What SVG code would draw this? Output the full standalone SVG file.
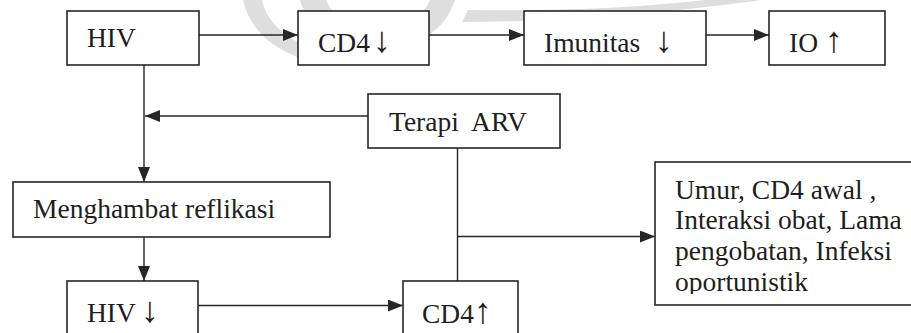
<svg xmlns="http://www.w3.org/2000/svg" width="911" height="333" viewBox="0 0 911 333">
  <style>
    .box { fill: #ffffff; stroke: #262626; stroke-width: 1.6; }
    .lbl { font-family: "Liberation Serif", "DejaVu Serif", serif; font-size: 27.5px; fill: #1e1e1e; white-space: pre; }
    .arw { font-size: 36px; }
    .wire { fill: none; stroke: #262626; stroke-width: 1.4; }
    .mark { fill: #dedede; }
  </style>
  <defs>
    <marker id="tip" markerUnits="userSpaceOnUse" markerWidth="15" markerHeight="12" viewBox="0 0 15 12" refX="15" refY="6" orient="auto">
      <path d="M0,0 L15,6 L0,12 Z" fill="#262626"/>
    </marker>
    <clipPath id="factorsClip">
      <rect x="656" y="163" width="260" height="131"/>
    </clipPath>
  </defs>

  <!-- faint background emblem -->
  <g id="emblem">
    <path class="mark" d="M243,0 L262,0 Q268,28 302,44 L300,58 Q252,40 243,0 Z"/>
    <path class="mark" d="M300,0 Q312,46 378,48 Q440,46 455,0 L430,0 Q420,26 378,27 Q336,26 326,0 Z"/>
    <path class="mark" d="M462,22 Q600,22 762,0 L705,0 Q600,12 468,10 Z"/>
  </g>

  <g id="connectors">
    <line class="wire" x1="199" y1="35" x2="298" y2="35" marker-end="url(#tip)"/>
    <line class="wire" x1="429" y1="35" x2="524" y2="35" marker-end="url(#tip)"/>
    <line class="wire" x1="706" y1="35" x2="769" y2="35" marker-end="url(#tip)"/>
    <line class="wire" x1="144" y1="65" x2="144" y2="182" marker-end="url(#tip)"/>
    <line class="wire" x1="368" y1="116" x2="145" y2="116" marker-end="url(#tip)"/>
    <line class="wire" x1="144" y1="237" x2="144" y2="281" marker-end="url(#tip)"/>
    <line class="wire" x1="198" y1="305.5" x2="403" y2="305.5" marker-end="url(#tip)"/>
    <line class="wire" x1="457.5" y1="148" x2="457.5" y2="281"/>
    <line class="wire" x1="457.5" y1="236.5" x2="655" y2="236.5" marker-end="url(#tip)"/>
  </g>

  <g id="hiv">
    <rect class="box" x="67" y="11" width="132" height="54"/>
    <text class="lbl" x="87" y="47">HIV</text>
  </g>
  <g id="cd4-down">
    <rect class="box" x="298" y="11" width="131" height="54"/>
    <text class="lbl" x="318" y="51.5">CD4<tspan class="arw" x="373">↓</tspan></text>
  </g>
  <g id="imunitas">
    <rect class="box" x="524" y="11" width="182" height="54"/>
    <text class="lbl" x="544" y="51.5">Imunitas<tspan class="arw" x="655">↓</tspan></text>
  </g>
  <g id="io">
    <rect class="box" x="769" y="11" width="116" height="54"/>
    <text class="lbl" x="789" y="51.5">IO<tspan class="arw" x="825">↑</tspan></text>
  </g>
  <g id="terapi-arv">
    <rect class="box" x="368" y="94" width="192" height="54"/>
    <text class="lbl" x="389" y="131">Terapi  ARV</text>
  </g>
  <g id="menghambat">
    <rect class="box" x="13" y="182" width="317" height="55"/>
    <text class="lbl" x="33" y="217.5">Menghambat reflikasi</text>
  </g>
  <g id="hiv-down">
    <rect class="box" x="67" y="281" width="131" height="70"/>
    <text class="lbl" x="87" y="322">HIV<tspan class="arw" x="141">↓</tspan></text>
  </g>
  <g id="cd4-up">
    <rect class="box" x="403" y="281" width="115" height="70"/>
    <text class="lbl" x="422" y="322.5">CD4<tspan class="arw" x="474">↑</tspan></text>
  </g>
  <g id="factors">
    <rect class="box" x="655" y="162" width="270" height="143"/>
    <g clip-path="url(#factorsClip)">
      <text class="lbl" x="675" y="198.5">Umur, CD4 awal ,</text>
      <text class="lbl" x="675" y="229">Interaksi obat, Lama</text>
      <text class="lbl" x="675" y="260">pengobatan, Infeksi</text>
      <text class="lbl" x="675" y="290.5">oportunistik</text>
    </g>
  </g>
</svg>
